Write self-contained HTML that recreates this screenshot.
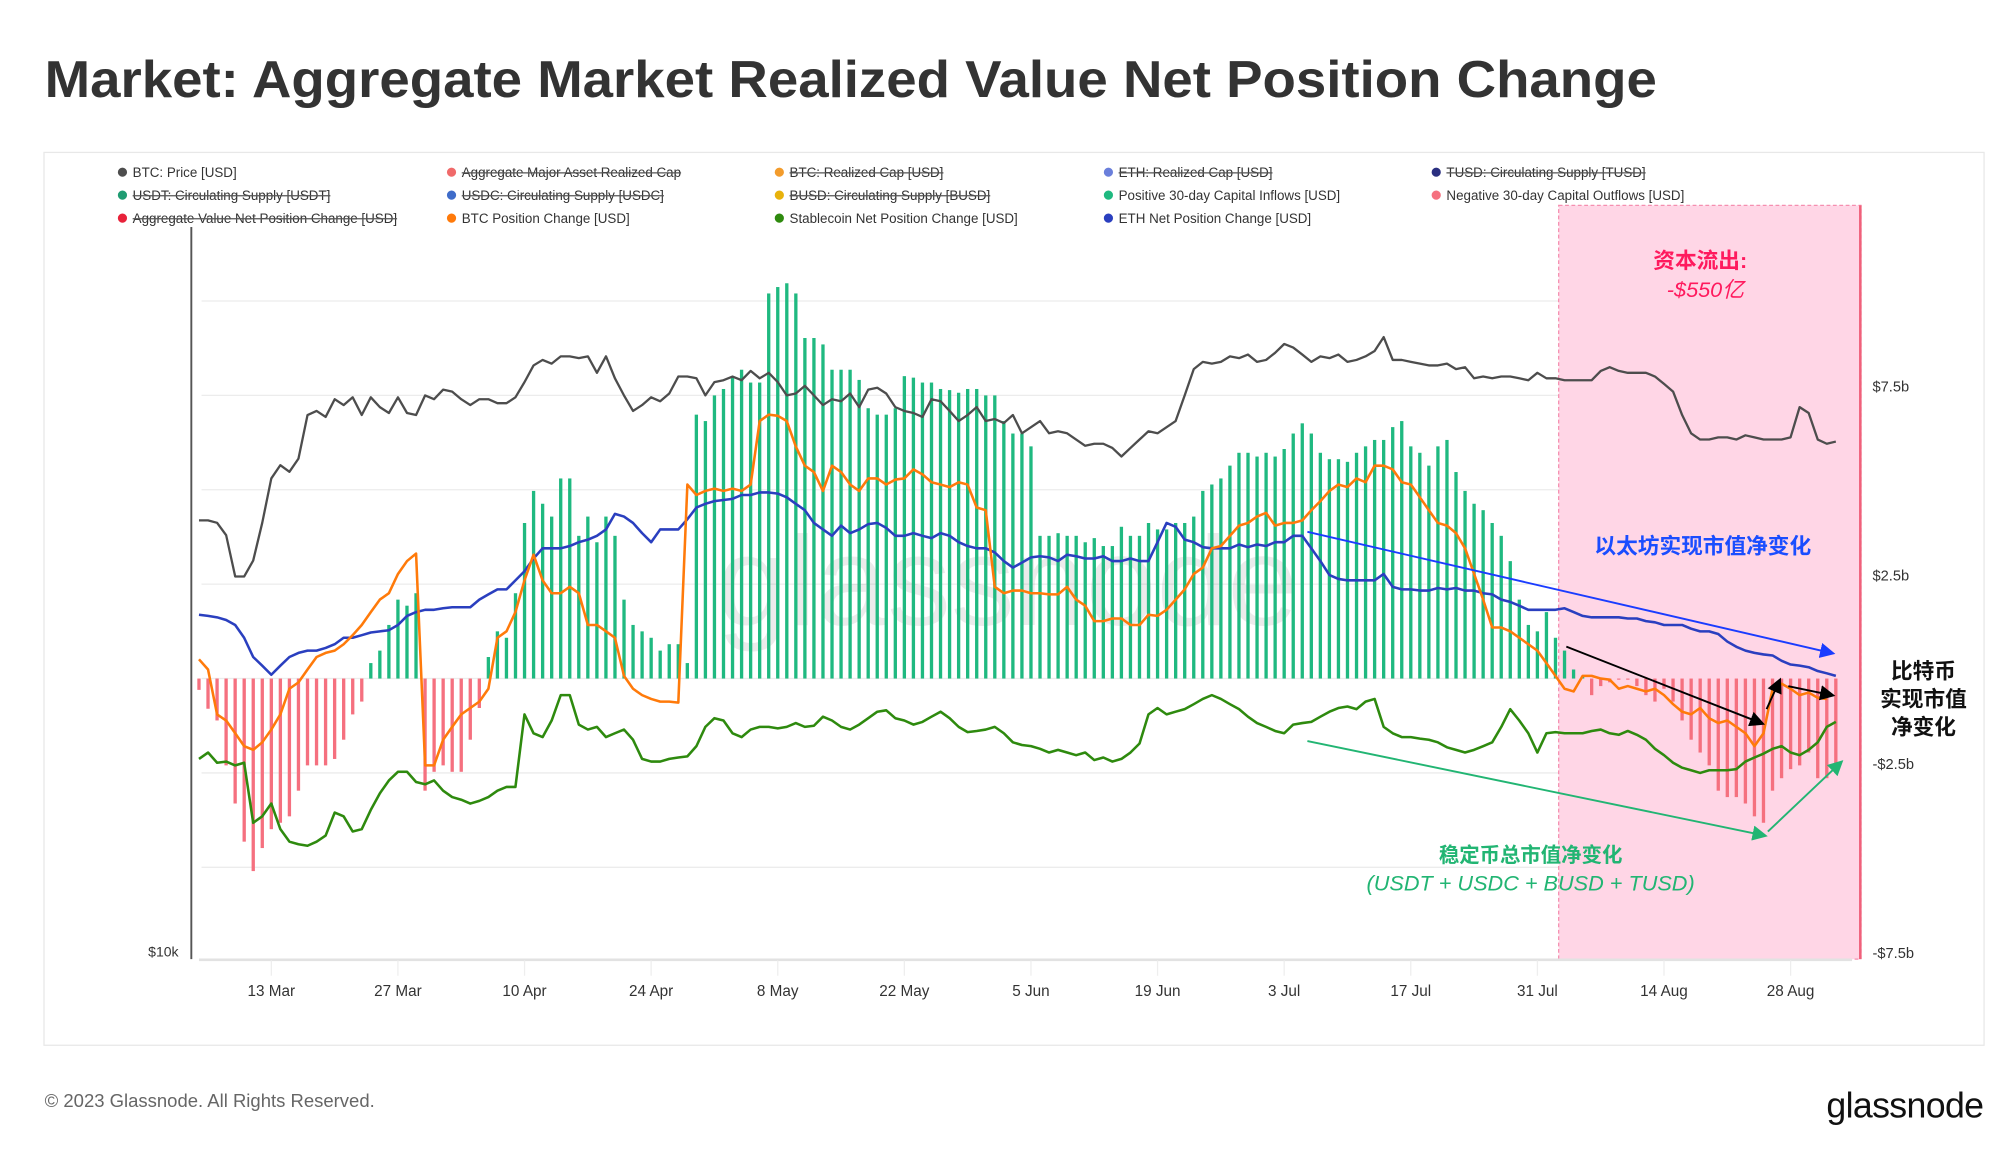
<!DOCTYPE html>
<html><head><meta charset="utf-8"><style>
html,body{margin:0;padding:0;background:#fff;}
svg{display:block;font-family:"Liberation Sans","Noto Sans CJK SC",sans-serif;}
</style></head><body>
<svg id="chart" width="2000" height="1152" viewBox="0 0 1568 903.2" preserveAspectRatio="none" xmlns="http://www.w3.org/2000/svg">
<text x="35" y="76" font-size="41" font-weight="bold" fill="#333" textLength="1264" lengthAdjust="spacingAndGlyphs">Market: Aggregate Market Realized Value Net Position Change</text>
<rect x="34.5" y="119.5" width="1521" height="700" fill="none" stroke="#e8e8e8" stroke-width="1"/>
<g id="legend" font-size="10.5" fill="#333"></g>
<g id="grid"></g>
<rect x="1222" y="161" width="237" height="591" fill="#ffd6e6" stroke="#f58fb0" stroke-dasharray="3,2" stroke-width="1"/>
<line x1="1458.5" y1="161" x2="1458.5" y2="752" stroke="#f0607a" stroke-width="2"/>
<text x="790" y="490" font-size="100" fill="#000" fill-opacity="0.08" text-anchor="middle">glassnode</text>
<g id="bars"></g>
<g id="lines"></g>
<g id="axes"></g>
<g id="annotations">
<defs>
<marker id="ab" markerWidth="8" markerHeight="8" refX="6" refY="4" orient="auto"><path d="M0,0 L8,4 L0,8 z" fill="#1a3cff"/></marker>
<marker id="ak" markerWidth="8" markerHeight="8" refX="6" refY="4" orient="auto"><path d="M0,0 L8,4 L0,8 z" fill="#000"/></marker>
<marker id="ag" markerWidth="8" markerHeight="8" refX="6" refY="4" orient="auto"><path d="M0,0 L8,4 L0,8 z" fill="#22b573"/></marker>
</defs>
<line x1="1025" y1="417" x2="1436" y2="512" stroke="#1a3cff" stroke-width="1.5" marker-end="url(#ab)"/>
<line x1="1228" y1="507" x2="1381" y2="567" stroke="#000" stroke-width="1.5" marker-end="url(#ak)"/>
<line x1="1385" y1="556" x2="1395" y2="534" stroke="#000" stroke-width="1.5" marker-end="url(#ak)"/>
<line x1="1402" y1="538" x2="1436" y2="545" stroke="#000" stroke-width="1.5" marker-end="url(#ak)"/>
<line x1="1025" y1="581" x2="1383" y2="655" stroke="#22b573" stroke-width="1.5" marker-end="url(#ag)"/>
<line x1="1386" y1="652" x2="1443" y2="598" stroke="#22b573" stroke-width="1.5" marker-end="url(#ag)"/>
<text x="1333" y="210" font-size="17" font-weight="bold" fill="#ff1a5e" text-anchor="middle">资本流出:</text>
<text x="1337" y="233" font-size="17" font-style="italic" fill="#ff1a5e" text-anchor="middle">-$550亿</text>
<text x="1335" y="434" font-size="17" font-weight="bold" fill="#1a4dff" text-anchor="middle">以太坊实现市值净变化</text>
<text font-size="17" font-weight="bold" fill="#111" text-anchor="middle"><tspan x="1508" y="532">比特币</tspan><tspan x="1508" y="554">实现市值</tspan><tspan x="1508" y="576">净变化</tspan></text>
<text x="1200" y="676" font-size="16" font-weight="bold" fill="#22b573" text-anchor="middle">稳定币总市值净变化</text>
<text x="1200" y="698" font-size="17" font-style="italic" fill="#22b573" text-anchor="middle">(USDT + USDC + BUSD + TUSD)</text>
</g>
<text x="35" y="868" font-size="14.5" fill="#666">© 2023 Glassnode. All Rights Reserved.</text>
<text x="1555" y="876" font-size="28" fill="#111" text-anchor="end" letter-spacing="-0.5">glassnode</text>
</svg>
<script>
const tickDates=["13 Mar","27 Mar","10 Apr","24 Apr","8 May","22 May","5 Jun","19 Jun","3 Jul","17 Jul","31 Jul","14 Aug","28 Aug"];
const tickDays=[8,22,36,50,64,78,92,106,120,134,148,162,176];
const rightTickValues=[7.5,2.5,-2.5,-7.5];
const rightTickLabels=["$7.5b","$2.5b","-$2.5b","-$7.5b"];
const btcPrice=[22.4,22.4,22.3,21.8,20.2,20.2,20.8,22.3,24.2,24.8,24.5,25.1,27.2,27.4,27.1,28.0,27.7,28.1,27.2,28.1,27.6,27.3,28.1,27.3,27.2,28.2,28.0,28.5,28.4,28.0,27.7,28.0,28.0,27.8,27.8,28.1,28.9,29.8,30.1,29.9,30.3,30.3,30.2,30.3,29.4,30.3,29.1,28.2,27.4,27.7,28.1,27.9,28.3,29.2,29.2,29.1,28.2,28.9,29.0,29.2,29.0,29.5,29.1,29.4,28.9,28.2,28.3,28.7,28.2,27.7,28.0,27.9,28.3,27.6,28.5,28.6,28.3,27.6,27.4,27.3,27.1,28.0,27.9,27.4,26.9,27.2,27.6,26.9,27.0,26.8,27.2,26.3,26.6,26.9,26.3,26.4,26.3,26.0,25.7,25.8,25.8,25.6,25.2,25.6,26.0,26.4,26.3,26.6,26.9,28.2,29.6,30.0,29.9,30.0,30.3,30.2,30.4,30.0,30.1,30.5,31.0,30.8,30.4,30.0,30.3,30.2,30.4,30.0,30.1,30.3,30.6,31.4,30.1,30.1,30.0,29.9,29.8,29.8,29.9,29.6,29.7,29.1,29.2,29.1,29.2,29.2,29.1,29.0,29.4,29.1,29.1,29.0,29.0,29.0,29.0,29.5,29.7,29.5,29.4,29.4,29.4,29.2,28.8,28.4,27.2,26.3,26.0,26.0,26.1,26.1,26.0,26.2,26.1,26.0,26.0,26.0,26.1,27.6,27.3,26.0,25.8,25.9];
const ethChange=[1.69,1.66,1.62,1.55,1.42,1.08,0.57,0.34,0.10,0.34,0.57,0.68,0.74,0.74,0.81,0.91,1.08,1.08,1.15,1.22,1.25,1.28,1.42,1.66,1.76,1.82,1.82,1.86,1.89,1.89,1.89,2.09,2.23,2.36,2.36,2.60,2.84,3.18,3.45,3.45,3.45,3.51,3.61,3.68,3.78,3.95,4.36,4.29,4.12,3.85,3.61,3.95,3.95,3.95,4.22,4.53,4.63,4.70,4.73,4.76,4.86,4.86,4.93,4.93,4.90,4.80,4.63,4.46,4.12,3.95,3.78,4.05,3.85,3.95,4.09,4.12,3.99,3.78,3.78,3.85,3.78,3.72,3.85,3.78,3.61,3.51,3.45,3.45,3.34,3.11,2.94,3.07,3.21,3.24,3.21,3.11,3.28,3.24,3.18,3.18,3.24,3.11,3.11,3.18,3.11,3.11,3.61,4.12,4.02,3.68,3.61,3.48,3.45,3.45,3.45,3.55,3.48,3.55,3.51,3.61,3.61,3.78,3.78,3.45,3.11,2.74,2.64,2.60,2.60,2.60,2.60,2.77,2.43,2.36,2.36,2.33,2.33,2.40,2.36,2.40,2.33,2.33,2.26,2.23,2.09,2.03,1.93,1.82,1.82,1.82,1.82,1.86,1.76,1.66,1.62,1.62,1.62,1.62,1.59,1.59,1.52,1.49,1.42,1.42,1.42,1.32,1.25,1.25,1.18,0.98,0.84,0.74,0.68,0.64,0.61,0.47,0.37,0.34,0.30,0.20,0.14,0.07];
const btcChange=[0.51,0.24,-0.95,-1.11,-1.45,-1.79,-1.89,-1.69,-1.35,-0.95,-0.27,-0.10,0.24,0.57,0.68,0.74,0.91,1.15,1.42,1.76,2.09,2.26,2.77,3.11,3.31,-2.30,-2.30,-1.62,-1.28,-0.95,-0.78,-0.61,-0.27,1.08,1.25,1.76,2.60,3.28,2.60,2.26,2.26,2.43,2.26,1.42,1.42,1.25,1.08,0.07,-0.27,-0.44,-0.54,-0.61,-0.61,-0.64,5.14,4.86,4.97,5.03,4.97,5.03,4.97,5.14,6.82,6.99,6.96,6.82,6.15,5.64,5.47,4.97,5.64,5.47,5.14,4.97,5.30,5.30,5.14,5.27,5.30,5.54,5.41,5.20,5.14,5.07,5.20,5.14,4.53,4.46,2.43,2.26,2.33,2.33,2.26,2.26,2.23,2.23,2.43,2.09,1.93,1.52,1.52,1.59,1.59,1.42,1.42,1.69,1.66,1.82,2.09,2.36,2.77,2.94,3.45,3.51,3.78,4.05,4.12,4.29,4.39,4.05,4.12,4.12,4.19,4.46,4.70,4.97,5.14,5.07,5.30,5.20,5.64,5.64,5.54,5.20,5.14,4.80,4.46,4.12,4.05,3.85,3.45,2.77,2.09,1.35,1.35,1.25,1.08,0.91,0.74,0.41,0.07,-0.27,-0.34,0.07,0.07,0,-0.03,-0.27,-0.20,-0.27,-0.34,-0.27,-0.44,-0.68,-0.88,-0.95,-0.78,-1.05,-1.18,-1.11,-1.28,-1.45,-1.79,-1.45,-0.27,-0.14,-0.27,-0.44,-0.37,-0.51,-0.54];
const stableChange=[-2.13,-1.96,-2.23,-2.20,-2.30,-2.23,-3.82,-3.65,-3.31,-3.99,-4.32,-4.39,-4.43,-4.32,-4.16,-3.55,-3.65,-4.05,-3.99,-3.48,-3.04,-2.70,-2.47,-2.47,-2.74,-2.80,-2.70,-2.97,-3.14,-3.21,-3.31,-3.24,-3.14,-2.97,-2.87,-2.87,-0.95,-1.45,-1.55,-1.11,-0.44,-0.44,-1.22,-1.35,-1.28,-1.55,-1.45,-1.35,-1.62,-2.13,-2.20,-2.20,-2.13,-2.09,-2.06,-1.79,-1.28,-1.05,-1.11,-1.45,-1.55,-1.35,-1.28,-1.28,-1.32,-1.28,-1.18,-1.28,-1.25,-1.01,-1.11,-1.28,-1.35,-1.22,-1.05,-0.88,-0.84,-1.05,-1.11,-1.22,-1.15,-1.01,-0.88,-1.05,-1.28,-1.42,-1.39,-1.35,-1.28,-1.45,-1.69,-1.76,-1.79,-1.86,-1.96,-1.89,-1.96,-2.03,-1.96,-2.16,-2.09,-2.20,-2.13,-1.96,-1.72,-0.95,-0.78,-0.95,-0.88,-0.81,-0.68,-0.54,-0.44,-0.54,-0.68,-0.81,-1.01,-1.18,-1.28,-1.39,-1.45,-1.22,-1.18,-1.15,-1.01,-0.88,-0.78,-0.74,-0.81,-0.61,-0.54,-1.28,-1.45,-1.55,-1.55,-1.59,-1.62,-1.69,-1.82,-1.89,-1.96,-1.89,-1.79,-1.69,-1.28,-0.81,-1.11,-1.45,-1.96,-1.45,-1.42,-1.45,-1.45,-1.45,-1.39,-1.35,-1.45,-1.49,-1.39,-1.49,-1.62,-1.86,-2.03,-2.23,-2.36,-2.43,-2.50,-2.43,-2.43,-2.43,-2.40,-2.20,-2.09,-1.99,-1.86,-1.79,-1.96,-2.03,-1.89,-1.69,-1.28,-1.15];
const aggregateFlows=[-0.3,-0.8,-1.11,-2.30,-3.31,-4.32,-5.10,-4.49,-3.99,-3.82,-3.65,-2.97,-2.30,-2.30,-2.30,-2.13,-1.62,-0.95,-0.61,0.41,0.74,1.42,2.09,1.93,2.26,-2.97,-2.47,-2.30,-2.47,-2.47,-1.62,-0.78,0.57,1.25,1.08,2.26,4.12,4.97,4.63,4.29,5.30,5.30,3.78,4.29,3.61,4.29,3.78,2.09,1.42,1.25,1.08,0.74,0.91,0.91,0.41,6.99,6.82,7.50,7.67,8.01,8.18,7.84,7.84,10.20,10.37,10.47,10.20,9.02,9.02,8.85,8.18,8.18,8.18,7.91,7.16,6.99,6.99,7.16,8.01,7.97,7.84,7.84,7.67,7.64,7.57,7.67,7.67,7.50,7.50,6.82,6.49,6.49,6.15,3.78,3.78,3.85,3.78,3.78,3.61,3.72,3.51,3.51,4.02,3.78,3.78,4.12,3.95,3.95,4.12,4.12,4.29,4.97,5.14,5.30,5.64,5.98,5.98,5.88,5.98,5.88,6.08,6.49,6.76,6.49,5.98,5.81,5.81,5.74,5.98,6.15,6.32,6.32,6.66,6.82,6.15,5.98,5.64,6.15,6.32,5.47,4.97,4.63,4.46,4.12,3.78,3.11,2.09,1.42,1.25,1.76,1.08,0.74,0.24,0.07,-0.44,-0.20,-0.10,-0.03,-0.03,-0.20,-0.44,-0.61,-0.27,-0.61,-1.11,-1.62,-1.96,-2.30,-2.97,-3.14,-3.14,-3.31,-3.65,-3.82,-2.97,-2.64,-2.40,-2.30,-1.96,-2.64,-2.64,-2.47];

const NS="http://www.w3.org/2000/svg";
function mk(tag,attrs,parent){const e=document.createElementNS(NS,tag);for(const k in attrs)e.setAttribute(k,attrs[k]);parent.appendChild(e);return e;}
function xDay(d){return 156+7.09*d;}
function yVal(v){return 532-29.6*v;}
function yPrice(p){return 452-980*Math.log10(p/20.2);}

const grid=document.getElementById('grid');
[236,310,384,458,532,606,680].forEach((y,i)=>{
  const l=mk('line',{x1:158,x2:1452,y1:y,y2:y,stroke:'#ececec','stroke-width':1},grid);
  
  
});

const bars=document.getElementById('bars');
aggregateFlows.forEach((v,i)=>{
  const x=xDay(i), y0=yVal(0), y1=yVal(v);
  const r=mk('rect',{x:x-1.3,y:Math.min(y0,y1),width:2.6,height:Math.max(0.5,Math.abs(y1-y0)),fill:v>=0?'#1fb980':'#f5707f'},bars);
  
  
});

const lines=document.getElementById('lines');
function drawLine(arr,yf,color,name,w){
  const d=arr.map((v,i)=>(i?'L':'M')+xDay(i).toFixed(1)+','+yf(v).toFixed(1)).join(' ');
  const p=mk('path',{d:d,fill:'none',stroke:color,'stroke-width':w,'stroke-linejoin':'round'},lines);
  
  
}
drawLine(stableChange,yVal,'#2e8a0e','stablecoin-net-position-line',2);
drawLine(ethChange,yVal,'#2a3fbf','eth-net-position-line',2);
drawLine(btcChange,yVal,'#ff7a0a','btc-position-change-line',2);
drawLine(btcPrice,yPrice,'#4d4d4d','btc-price-line',1.8);

const axes=document.getElementById('axes');
const la=mk('line',{x1:150,y1:178,x2:150,y2:752,stroke:'#555','stroke-width':1.5},axes);


const ba=mk('line',{x1:156,y1:752.5,x2:1452,y2:752.5,stroke:'#e2e2e2','stroke-width':2},axes);


const lt=mk('text',{x:140,y:750,'font-size':11,fill:'#333','text-anchor':'end'},axes);
lt.textContent='$10k';


tickDays.forEach((d,i)=>{
  const x=xDay(d);
  const tk=mk('line',{x1:x,x2:x,y1:753,y2:765,stroke:'#eee','stroke-width':1},axes);
  
  
  const t=mk('text',{x:x,y:781,'font-size':12,fill:'#333','text-anchor':'middle'},axes);
  t.textContent=tickDates[i];
  
  
});
rightTickValues.forEach((v,i)=>{
  const t=mk('text',{x:1468,y:yVal(v)-3,'font-size':11.5,fill:'#333'},axes);
  t.textContent=rightTickLabels[i];
  
  
});

const legendItems=[
 ["BTC: Price [USD]","#4d4d4d",false],["Aggregate Major Asset Realized Cap","#f06a6a",true],["BTC: Realized Cap [USD]","#f39c2c",true],["ETH: Realized Cap [USD]","#6a7fdb",true],["TUSD: Circulating Supply [TUSD]","#2a2f80",true],
 ["USDT: Circulating Supply [USDT]","#1f9c72",true],["USDC: Circulating Supply [USDC]","#3f6cc9",true],["BUSD: Circulating Supply [BUSD]","#e8b20c",true],["Positive 30-day Capital Inflows [USD]","#1fb980",false],["Negative 30-day Capital Outflows [USD]","#f5707f",false],
 ["Aggregate Value Net Position Change [USD]","#e8223a",true],["BTC Position Change [USD]","#ff7a0a",false],["Stablecoin Net Position Change [USD]","#2e8a0e",false],["ETH Net Position Change [USD]","#2a3fbf",false]];
const lg=document.getElementById('legend');
const colX=[96,354,611,869,1126], rowY=[135,153,171];
legendItems.forEach((it,i)=>{
  const x=colX[i%5], y=rowY[Math.floor(i/5)];
  const g=mk('g',{},lg);
  
  
  mk('circle',{cx:x,cy:y,r:3.6,fill:it[1]},g);
  const t=mk('text',{x:x+8,y:y+3.8,'font-size':10.5,fill:'#333'},g);
  t.textContent=it[0];
  if(it[2]){const w=t.getComputedTextLength();mk('line',{x1:x+8,x2:x+8+w,y1:y+0.5,y2:y+0.5,stroke:'#555','stroke-width':1},g);}
});
</script>
</body></html>
